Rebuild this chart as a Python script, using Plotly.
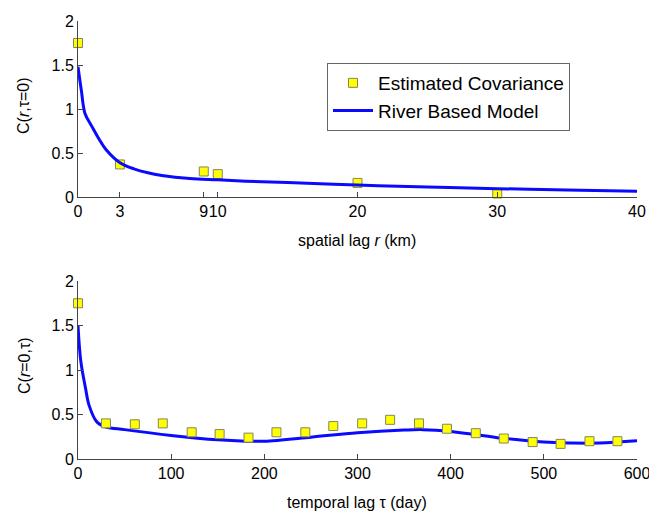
import plotly.graph_objects as go
from plotly.subplots import make_subplots

# --- Top panel: spatial lag ---
r_est = [0, 3, 9, 10, 20, 30]
c_r_est = [1.75, 0.37, 0.29, 0.26, 0.16, 0.04]
r_model = [0, 0.25, 0.5, 1, 1.5, 2, 3, 4, 5, 6, 8, 10, 12, 15, 20, 25, 30, 35, 40]
c_r_model = [1.48, 1.2, 0.95, 0.8, 0.66, 0.54, 0.39, 0.32, 0.275, 0.245, 0.21, 0.195, 0.18, 0.165, 0.135, 0.115, 0.095, 0.08, 0.065]
r_ticks = [0, 3, 9, 10, 20, 30, 40]

# --- Bottom panel: temporal lag ---
t_est = [0, 30, 61, 91, 122, 152, 183, 213, 244, 274, 305, 335, 366, 396, 427, 457, 488, 518, 549, 579]
c_t_est = [1.75, 0.40, 0.39, 0.40, 0.30, 0.28, 0.24, 0.30, 0.30, 0.37, 0.40, 0.44, 0.40, 0.34, 0.29, 0.23, 0.19, 0.17, 0.20, 0.20]
t_model = [0, 3, 8, 12, 20, 30, 50, 100, 150, 180, 200, 250, 300, 350, 370, 400, 450, 500, 530, 560, 600]
c_t_model = [1.5, 1.1, 0.8, 0.6, 0.42, 0.36, 0.33, 0.265, 0.215, 0.2, 0.2, 0.245, 0.295, 0.325, 0.33, 0.31, 0.24, 0.19, 0.18, 0.18, 0.205]
t_ticks = [0, 100, 200, 300, 400, 500, 600]

y_ticks = [0, 0.5, 1, 1.5, 2]
y_ticklabels = ["0", "0.5", "1", "1.5", "2"]

FONT = "Liberation Sans, Arial, sans-serif"
BLUE = "#0a0aff"
marker = dict(symbol="square", size=9, color="#ffff00", line=dict(color="#85855a", width=1))

W, H = 649, 513
L, R, T, B = 78, 12, 21, 54
PH = H - T - B  # plot-area height in px


def py(p):
    """convert pixel y (from top) to paper y"""
    return (H - B - p) / PH


def px(p):
    return (p - L) / (W - L - R)


fig = make_subplots(rows=2, cols=1)
fig.update_layout(
    yaxis=dict(domain=[py(197), 1.0]),
    yaxis2=dict(domain=[0.0, py(281)]),
)

fig.add_trace(go.Scatter(x=r_est, y=c_r_est, mode="markers", marker=marker,
                         name="Estimated Covariance", cliponaxis=False), row=1, col=1)
fig.add_trace(go.Scatter(x=r_model, y=c_r_model, mode="lines", line=dict(color=BLUE, width=3, shape="spline"),
                         name="River Based Model", cliponaxis=False), row=1, col=1)
fig.add_trace(go.Scatter(x=t_model, y=c_t_model, mode="lines", line=dict(color=BLUE, width=3, shape="spline"),
                         showlegend=False, cliponaxis=False), row=2, col=1)
fig.add_trace(go.Scatter(x=t_est, y=c_t_est, mode="markers", marker=marker,
                         showlegend=False, cliponaxis=False), row=2, col=1)

axis_common = dict(showline=True, linecolor="#444444", linewidth=1, showgrid=False, zeroline=False,
                   ticks="inside", ticklen=5, tickcolor="#444444", tickangle=0, automargin=False,
                   ticklabeloverflow="allow", tickfont=dict(size=16, color="black"))

fig.update_xaxes(range=[0, 40], tickvals=r_ticks, ticktext=[str(v) for v in r_ticks], row=1, col=1, **axis_common)
fig.update_xaxes(range=[0, 600], tickvals=t_ticks, ticktext=[str(v) for v in t_ticks], row=2, col=1, **axis_common)
fig.update_yaxes(range=[0, 2], tickvals=y_ticks, ticktext=y_ticklabels, **axis_common)

title_font = dict(size=16, color="black", family=FONT)
fig.add_annotation(text="spatial lag <i>r</i> (km)", xref="paper", yref="paper", x=px(357), y=py(240),
                   showarrow=False, font=title_font, xanchor="center", yanchor="middle")
fig.add_annotation(text="temporal lag τ (day)", xref="paper", yref="paper", x=px(357), y=py(502),
                   showarrow=False, font=title_font, xanchor="center", yanchor="middle")
fig.add_annotation(text="C(<i>r</i>,τ=0)", xref="paper", yref="paper", x=px(24), y=py(106),
                   showarrow=False, font=title_font, textangle=-90, xanchor="center", yanchor="middle")
fig.add_annotation(text="C(<i>r</i>=0,τ)", xref="paper", yref="paper", x=px(24), y=py(366),
                   showarrow=False, font=title_font, textangle=-90, xanchor="center", yanchor="middle")

fig.update_layout(
    width=W, height=H,
    margin=dict(l=L, r=R, t=T, b=B, autoexpand=False),
    paper_bgcolor="white", plot_bgcolor="white",
    font=dict(family=FONT, size=16, color="black"),
    legend=dict(x=px(327), y=py(63), xanchor="left", yanchor="top", bordercolor="#666666", borderwidth=1,
                bgcolor="white", font=dict(size=19), itemwidth=40, tracegroupgap=0),
    showlegend=True,
)

fig.write_html("out.html", config={"displayModeBar": False},
               post_script="document.body.style.margin='0px';document.body.style.overflow='hidden';")
